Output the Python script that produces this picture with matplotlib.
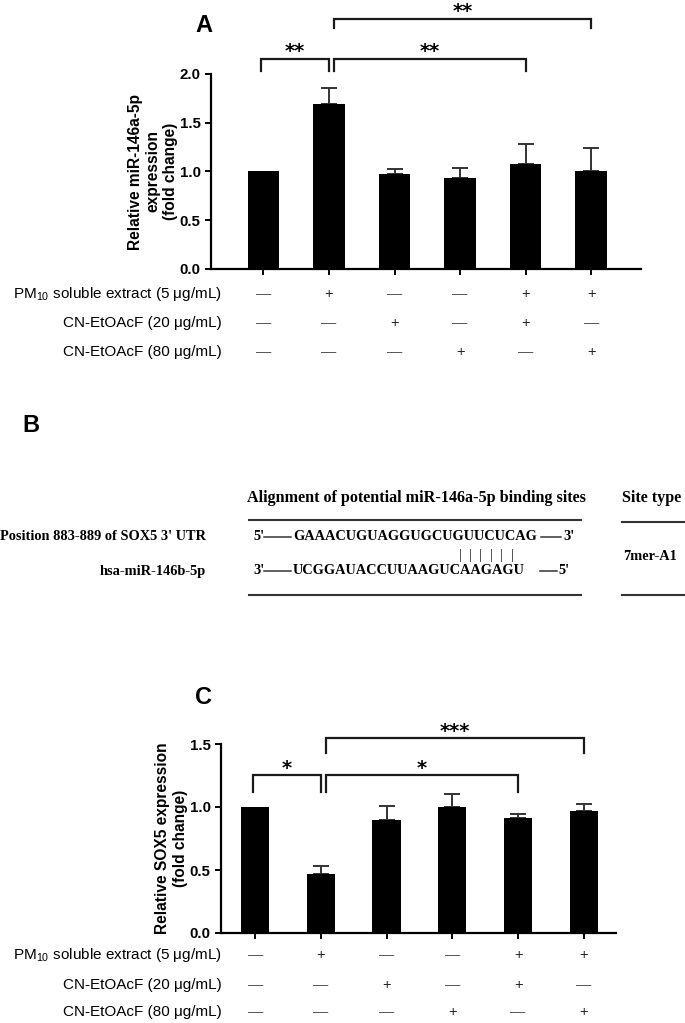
import numpy as np
import matplotlib
matplotlib.use("Agg")
import matplotlib.pyplot as plt
from matplotlib.lines import Line2D
from matplotlib.transforms import blended_transform_factory

plt.rcParams["font.family"] = ["Liberation Sans", "DejaVu Sans"]
plt.rcParams["mathtext.fontset"] = "custom"
plt.rcParams["mathtext.rm"] = "Liberation Sans"

# ---- data ----
groups = ["ctrl", "PM", "CN20", "CN80", "PM+CN20", "PM+CN80"]

mir_mean = [1.00, 1.69, 0.97, 0.93, 1.08, 1.01]
mir_err = [0.00, 0.17, 0.055, 0.11, 0.205, 0.235]

sox_mean = [1.00, 0.465, 0.90, 1.00, 0.91, 0.966]
sox_err = [0.00, 0.063, 0.106, 0.104, 0.035, 0.061]

# (left group, right group, bracket y, leg bottom, star y, label)
mir_sig = [(0, 1, 2.15, 2.03, 2.29, "**"),
           (1, 4, 2.15, 2.03, 2.29, "**"),
           (1, 5, 2.56, 2.47, 2.70, "**")]
sox_sig = [(0, 1, 1.252, 1.122, 1.35, "*"),
           (1, 4, 1.252, 1.122, 1.35, "*"),
           (1, 5, 1.545, 1.43, 1.64, "***")]

row_labels = [r"PM$_{10}$ soluble extract (5 μg/mL)",
              "CN-EtOAcF (20 μg/mL)",
              "CN-EtOAcF (80 μg/mL)"]
treat = [[0, 1, 0, 0, 1, 1],
         [0, 0, 1, 0, 1, 0],
         [0, 0, 0, 1, 0, 1]]

top_seq = "GAAACUGUAGGUGCUGUUCUCAG"
bot_seq = "UCGGAUACCUUAAGUCAAGAGU"
paired = [16, 17, 18, 19, 20, 21]

W, H = 685, 1023
fig = plt.figure(figsize=(W / 100, H / 100), dpi=100)


def fx(px):
    return px / W


def fy(py):
    return 1 - py / H


def bar_panel(left, right, bottom, top, means, errs, ymax, ystep, xlim, width, sig, ylabel, lab_x):
    ax = fig.add_axes([fx(left), fy(bottom), fx(right) - fx(left), (bottom - top) / H])
    x = np.arange(len(means))
    ax.bar(x, means, width=width, color="black", zorder=2)
    e = np.array(errs)
    m = e > 0
    ax.errorbar(x[m], np.array(means)[m], yerr=[np.zeros(m.sum()), e[m]], fmt="none",
                ecolor="#333333", elinewidth=1.4, capsize=6, capthick=1.4, zorder=1)
    ax.set_xlim(*xlim)
    ax.set_ylim(0, ymax)
    ax.set_yticks(np.arange(0, ymax + 0.01, ystep))
    ax.yaxis.set_major_formatter(matplotlib.ticker.FormatStrFormatter("%.1f"))
    ax.set_xticks(x)
    ax.set_xticklabels([])
    for s in ["top", "right"]:
        ax.spines[s].set_visible(False)
    for s in ["left", "bottom"]:
        ax.spines[s].set_linewidth(1.6)
    ax.tick_params(axis="both", width=1.4, length=4, labelsize=10.8)
    for t in ax.get_yticklabels():
        t.set_fontweight("bold")
    ax.set_ylabel(ylabel, fontsize=11.2, fontweight="bold")
    ax.yaxis.set_label_coords(lab_x, 0.5)

    for a, b, yb, yl, ys, lab in sig:
        x0 = a + (0.07 if a > 0 else -0.03)
        x1 = b
        ax.plot([x0, x0, x1, x1], [yl, yb, yb, yl], color="#1a1a1a", lw=1.6,
                clip_on=False, solid_joinstyle="miter")
        ax.annotate(lab, ((x0 + x1) / 2, ys), xytext=(0, -4), textcoords="offset points",
                    ha="center", va="center", fontsize=14, fontweight="bold",
                    family=["DejaVu Sans"], annotation_clip=False)
    return ax


def treat_table(ax, rows_y):
    tr = blended_transform_factory(ax.transData, fig.transFigure)
    for r, lab in enumerate(row_labels):
        fig.text(fx(222), fy(rows_y[r]), lab, ha="right", va="center", fontsize=11)
        for i, v in enumerate(treat[r]):
            ax.text(i, fy(rows_y[r]), "+" if v else "—", transform=tr, ha="center",
                    va="center", fontsize=10.5 if v else 11, color="#222222" if v else "#555555",
                    clip_on=False)


# ---- panel A ----
axA = bar_panel(211, 641, 269, 74, mir_mean, mir_err, 2.0, 0.5, (-0.8, 5.76), 0.48,
                mir_sig, "Relative miR-146a-5p\nexpression\n(fold change)", -0.077)
treat_table(axA, [294, 323, 352])
fig.text(fx(195), fy(25), "A", fontsize=17, fontweight="bold", ha="left", va="center")

# ---- panel C ----
axC = bar_panel(221, 616, 933, 744, sox_mean, sox_err, 1.5, 0.5, (-0.52, 5.49), 0.43,
                sox_sig, "Relative SOX5 expression\n(fold change)", -0.084)
treat_table(axC, [955, 985, 1012])
fig.text(fx(195), fy(697), "C", fontsize=17, fontweight="bold", ha="left", va="center")

# ---- panel B ----
fig.text(fx(22), fy(425), "B", fontsize=17, fontweight="bold", ha="left", va="center")
serif = dict(family=["Liberation Serif", "DejaVu Serif"], fontweight="bold", fontsize=10.4)
head = dict(serif, fontsize=11.6)
fig.text(fx(416), fy(498), "Alignment of potential miR-146a-5p binding sites", ha="center",
         va="center", **head)
fig.text(fx(622), fy(498), "Site type", ha="left", va="center", **head)


def hline(x0, x1, y, lw=1.5):
    fig.add_artist(Line2D([fx(x0), fx(x1)], [fy(y), fy(y)], color="#333333", lw=lw))


hline(249, 581, 520)
hline(249, 581, 595)
hline(622, 685, 522)
hline(622, 685, 595)

fig.text(fx(206), fy(537), "Position 883-889 of SOX5 3' UTR", ha="right", va="center", **serif)
fig.text(fx(206), fy(571), "hsa-miR-146b-5p", ha="right", va="center", **serif)

fig.text(fx(253), fy(537), "5'", ha="left", va="center", **serif)
hline(264, 291, 537, lw=1.1)
fig.text(fx(293), fy(537), top_seq, ha="left", va="center", **serif)
hline(541, 561, 537, lw=1.1)
fig.text(fx(563), fy(537), "3'", ha="left", va="center", **serif)

fig.text(fx(253), fy(571), "3'", ha="left", va="center", **serif)
hline(264, 291, 571, lw=1.1)
fig.text(fx(293), fy(571), bot_seq, ha="left", va="center", **serif)
hline(540, 557, 571, lw=1.1)
fig.text(fx(558), fy(571), "5'", ha="left", va="center", **serif)

for k, i in enumerate(paired):
    fig.text(fx(460 + 10.4 * k), fy(555), "|", ha="center", va="center",
             family=["Liberation Serif"], fontsize=11, color="#222222")

fig.text(fx(623), fy(556), "7mer-A1", ha="left", va="center", **serif)

fig.savefig("out.png", dpi=100)
